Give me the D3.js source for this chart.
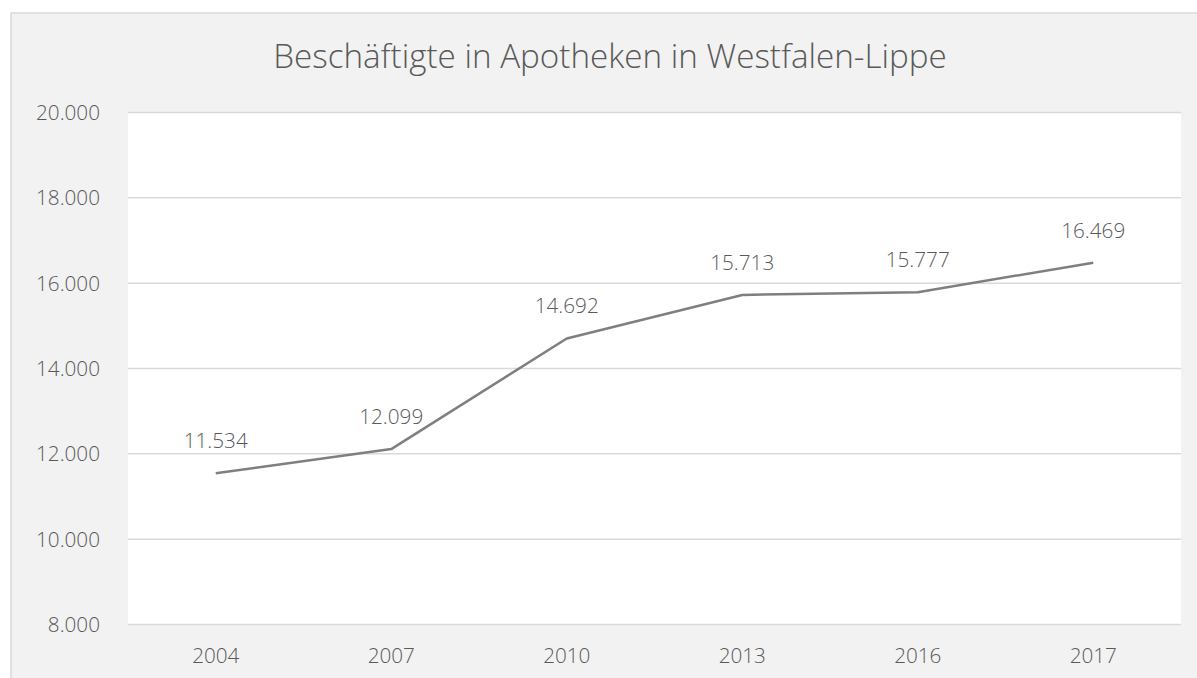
<!DOCTYPE html>
<html>
<head>
<meta charset="utf-8">
<script src="https://cdn.jsdelivr.net/npm/d3@7"></script>
<style>
html,body{margin:0;padding:0;background:#fff;}
svg{display:block;}
text{font-family:"Open Sans",sans-serif;fill:#595959;font-weight:300;}
</style>
</head>
<body>
<script>
const years = ["2004","2007","2010","2013","2016","2017"];
const employees = [11534, 12099, 14692, 15713, 15777, 16469];
const yTicks = [8000, 10000, 12000, 14000, 16000, 18000, 20000];
const title = "Beschäftigte in Apotheken in Westfalen-Lippe";

const W = 1197, H = 678;
const plot = {left:128, right:1181, top:112, bottom:624};

const svg = d3.select("body").append("svg").attr("width", W).attr("height", H);

// outer chart area
svg.append("rect").attr("x", 11).attr("y", 13).attr("width", W + 20).attr("height", H + 20)
  .attr("fill", "#f2f2f2").attr("stroke", "#d9d9d9").attr("stroke-width", 1.5);

// plot area
svg.append("rect").attr("x", plot.left).attr("y", plot.top)
  .attr("width", plot.right - plot.left).attr("height", plot.bottom - plot.top).attr("fill", "#fff");

const x = d3.scaleBand().domain(years).range([plot.left, plot.right]);
const y = d3.scaleLinear().domain([8000, 20000]).range([plot.bottom, plot.top]);

const fmt = v => d3.format(",")(v).replace(/,/g, ".");

function fitSize(sel, target) {
  const w = sel.node().getComputedTextLength();
  const fs = parseFloat(sel.attr("font-size"));
  return fs * target / w;
}

// probe font size for numbers
const probe = svg.append("text").attr("font-size", 20).text("20.000");
const numSize = fitSize(probe, 64);
probe.remove();

// gridlines
const yAxis = d3.axisLeft(y).tickValues(yTicks).tickFormat(fmt)
  .tickSize(-(plot.right - plot.left)).tickPadding(28);
const gy = svg.append("g").attr("transform", `translate(${plot.left},0)`).call(yAxis);
gy.select(".domain").remove();
gy.selectAll(".tick line").attr("stroke", "#d9d9d9").attr("stroke-width", 1.5);
gy.selectAll(".tick text").attr("font-size", numSize).attr("fill", "#595959")
  .attr("font-family", '"Open Sans",sans-serif').attr("font-weight", 300).attr("dy", "0.36em");

// x axis labels
const xAxis = d3.axisBottom(x).tickSize(0).tickPadding(0);
const gx = svg.append("g").attr("transform", `translate(0,${plot.bottom})`).call(xAxis);
gx.select(".domain").remove();
gx.selectAll(".tick text").attr("font-size", numSize).attr("fill", "#595959")
  .attr("font-family", '"Open Sans",sans-serif').attr("font-weight", 300).attr("dy", null).attr("y", 39);

// line
const data = years.map((yr, i) => ({yr, v: employees[i]}));
const line = d3.line().x(d => x(d.yr) + x.bandwidth() / 2).y(d => y(d.v));
svg.append("path").datum(data).attr("d", line).attr("fill", "none")
  .attr("stroke", "#7f7f7f").attr("stroke-width", 2.5).attr("stroke-linejoin", "round");

// data labels
svg.selectAll(".lbl").data(data).enter().append("text").attr("class", "lbl")
  .attr("x", d => x(d.yr) + x.bandwidth() / 2).attr("y", d => y(d.v) - 25)
  .attr("text-anchor", "middle").attr("font-size", numSize).text(d => fmt(d.v));

// title
const t = svg.append("text").attr("x", 610).attr("y", 68).attr("text-anchor", "middle")
  .attr("font-size", 30).attr("font-weight", 300).text(title);
t.attr("font-size", fitSize(t, 674));
</script>
</body>
</html>
